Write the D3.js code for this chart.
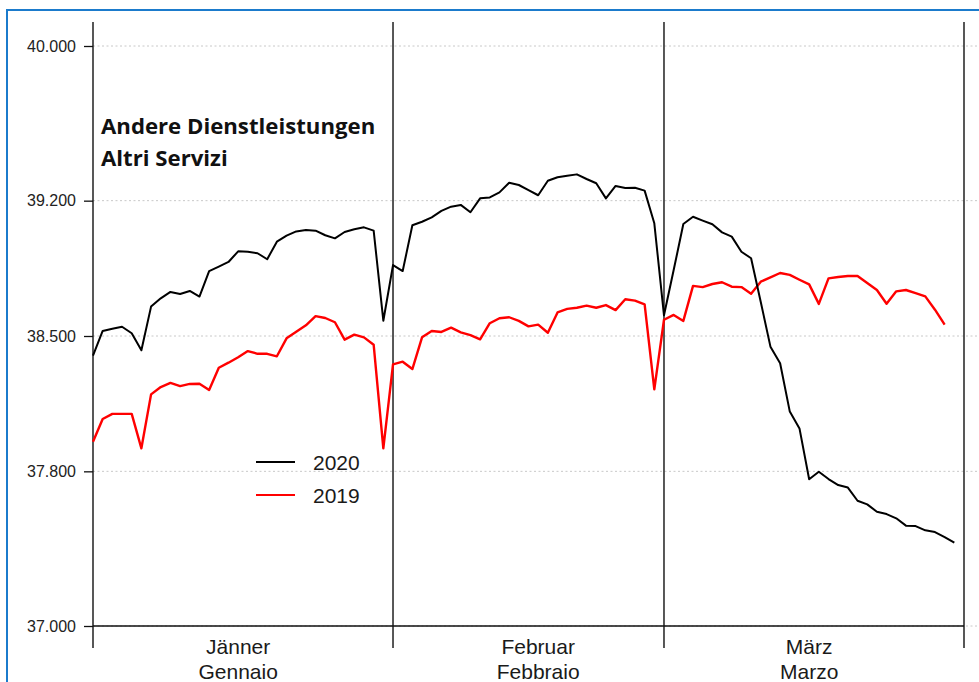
<!DOCTYPE html>
<html>
<head>
<meta charset="utf-8">
<script src="https://cdn.jsdelivr.net/npm/d3@7"></script>
<style>
  body { margin: 0; background: #fff; }
  svg { display: block; font-family: "Liberation Sans", Arial, sans-serif; }
</style>
</head>
<body>
<svg id="chart" width="979" height="682"></svg>
<script>
// daily values, Jan 1 – Mar 31 (Feb with 28 days)
const jan2020 = [38398, 38526, 38538, 38548, 38514, 38426, 38652, 38695, 38728, 38717, 38733, 38704, 38836, 38859, 38883, 38938, 38936, 38928, 38897, 38988, 39019, 39041, 39048, 39045, 39021, 39005, 39038, 39052, 39062, 39045, 38579];
const feb2020 = [38867, 38836, 39073, 39091, 39114, 39147, 39169, 39178, 39140, 39212, 39217, 39243, 39293, 39281, 39255, 39228, 39303, 39321, 39329, 39336, 39312, 39290, 39212, 39276, 39266, 39267, 39252, 39083];
const mar2020 = [38607, 38841, 39079, 39117, 39097, 39078, 39036, 39014, 38936, 38902, 38676, 38445, 38359, 38109, 38022, 37759, 37798, 37760, 37729, 37716, 37648, 37629, 37591, 37579, 37557, 37519, 37517, 37495, 37486, 37460, 37431];

const jan2019 = [37953, 38071, 38097, 38097, 38097, 37919, 38198, 38236, 38257, 38241, 38252, 38253, 38221, 38336, 38362, 38390, 38422, 38408, 38408, 38395, 38488, 38522, 38555, 38603, 38593, 38571, 38481, 38507, 38493, 38455, 37919];
const feb2019 = [38353, 38367, 38329, 38493, 38526, 38521, 38543, 38519, 38505, 38483, 38566, 38592, 38597, 38578, 38550, 38559, 38517, 38622, 38640, 38646, 38657, 38646, 38660, 38634, 38690, 38683, 38664, 38224];
const mar2019 = [38584, 38609, 38578, 38759, 38753, 38769, 38778, 38755, 38753, 38719, 38781, 38803, 38826, 38816, 38791, 38767, 38666, 38798, 38805, 38810, 38810, 38774, 38738, 38667, 38731, 38738, 38722, 38705, 38636, 38559];

const monthsDe = ["Jänner", "Februar", "März"];
const monthsIt = ["Gennaio", "Febbraio", "Marzo"];
const monthBreaks = [0, 31, 59, 90];      // day index where each month starts
const monthLabelDay = [15, 46, 74];        // labels sit on the 16th
const yTicks = [37000, 37800, 38500, 39200, 40000];
const seriesNames = ["2020", "2019"];
const seriesColors = ["#000", "#f00"];

const values2020 = jan2020.concat(feb2020, mar2020);
const values2019 = jan2019.concat(feb2019, mar2019);

const svg = d3.select("#chart");
const plotLeft = 93, plotRight = 964, plotTop = 46, plotBottom = 626;

const x = d3.scaleLinear().domain([0, 90]).range([plotLeft, plotRight]);
const y = d3.scaleLinear().domain([37000, 40000]).range([plotBottom, plotTop]);

const de = d3.formatLocale({decimal: ",", thousands: ".", grouping: [3], currency: ["", " €"]});
const fmt = de.format(",d");

// blue frame
svg.append("rect")
  .attr("x", 7).attr("y", 10)
  .attr("width", 990).attr("height", 700)
  .attr("fill", "none")
  .attr("stroke", "#1b7bcc")
  .attr("stroke-width", 2);

// dotted grid
svg.append("g")
  .selectAll("line")
  .data(yTicks)
  .join("line")
  .attr("x1", plotLeft).attr("x2", 979)
  .attr("y1", d => y(d)).attr("y2", d => y(d))
  .attr("stroke", "#c8c8c8")
  .attr("stroke-width", 1)
  .attr("stroke-dasharray", "2,2.5");

// month separators
svg.append("g")
  .selectAll("line")
  .data(monthBreaks)
  .join("line")
  .attr("x1", d => x(d)).attr("x2", d => x(d))
  .attr("y1", 22).attr("y2", 648)
  .attr("stroke", "#111")
  .attr("stroke-width", 1.4);

// y axis
const yAxis = svg.append("g")
  .attr("transform", `translate(${plotLeft},0)`)
  .call(d3.axisLeft(y).tickValues(yTicks).tickFormat(fmt).tickSize(9).tickPadding(8));
yAxis.select(".domain").remove();
yAxis.selectAll("line").attr("stroke", "#111").attr("stroke-width", 1.3);
yAxis.selectAll("text")
  .attr("font-size", 16)
  .attr("font-family", "Liberation Sans, Arial, sans-serif")
  .attr("fill", "#222");

// x axis baseline
svg.append("line")
  .attr("x1", x(0)).attr("x2", x(90))
  .attr("y1", y(37000)).attr("y2", y(37000))
  .attr("stroke", "#111")
  .attr("stroke-width", 1.4);

// month labels
const monthG = svg.append("g")
  .attr("font-size", 21)
  .attr("fill", "#1a1a1a")
  .attr("text-anchor", "middle");
monthG.selectAll("text.de")
  .data(monthsDe)
  .join("text")
  .attr("class", "de")
  .attr("x", (d, i) => x(monthLabelDay[i]))
  .attr("y", 654)
  .text(d => d);
monthG.selectAll("text.it")
  .data(monthsIt)
  .join("text")
  .attr("class", "it")
  .attr("x", (d, i) => x(monthLabelDay[i]))
  .attr("y", 679)
  .text(d => d);

// lines
const line = d3.line()
  .x((d, i) => x(i))
  .y(d => y(d));

svg.append("path")
  .datum(values2019)
  .attr("fill", "none")
  .attr("stroke", seriesColors[1])
  .attr("stroke-width", 2.4)
  .attr("stroke-linejoin", "round")
  .attr("d", line);

svg.append("path")
  .datum(values2020)
  .attr("fill", "none")
  .attr("stroke", seriesColors[0])
  .attr("stroke-width", 2)
  .attr("stroke-linejoin", "round")
  .attr("d", line);

// title
const title = svg.append("text")
  .attr("x", 102)
  .attr("font-family", "Open Sans, sans-serif")
  .attr("font-weight", 700)
  .attr("font-size", 22.2)
  .attr("fill", "#111");
title.append("tspan").attr("x", 101).attr("y", 134).text("Andere Dienstleistungen");
title.append("tspan").attr("x", 101).attr("y", 166).text("Altri Servizi");

// legend
const legend = svg.append("g").attr("transform", "translate(256,462)");
legend.selectAll("line")
  .data(seriesNames)
  .join("line")
  .attr("x1", 0).attr("x2", 39)
  .attr("y1", (d, i) => i * 33).attr("y2", (d, i) => i * 33)
  .attr("stroke", (d, i) => seriesColors[i])
  .attr("stroke-width", 2);
legend.selectAll("text")
  .data(seriesNames)
  .join("text")
  .attr("x", 57)
  .attr("y", (d, i) => i * 33 + 7.5)
  .attr("font-size", 21)
  .attr("fill", "#1a1a1a")
  .text(d => d);
</script>
</body>
</html>
